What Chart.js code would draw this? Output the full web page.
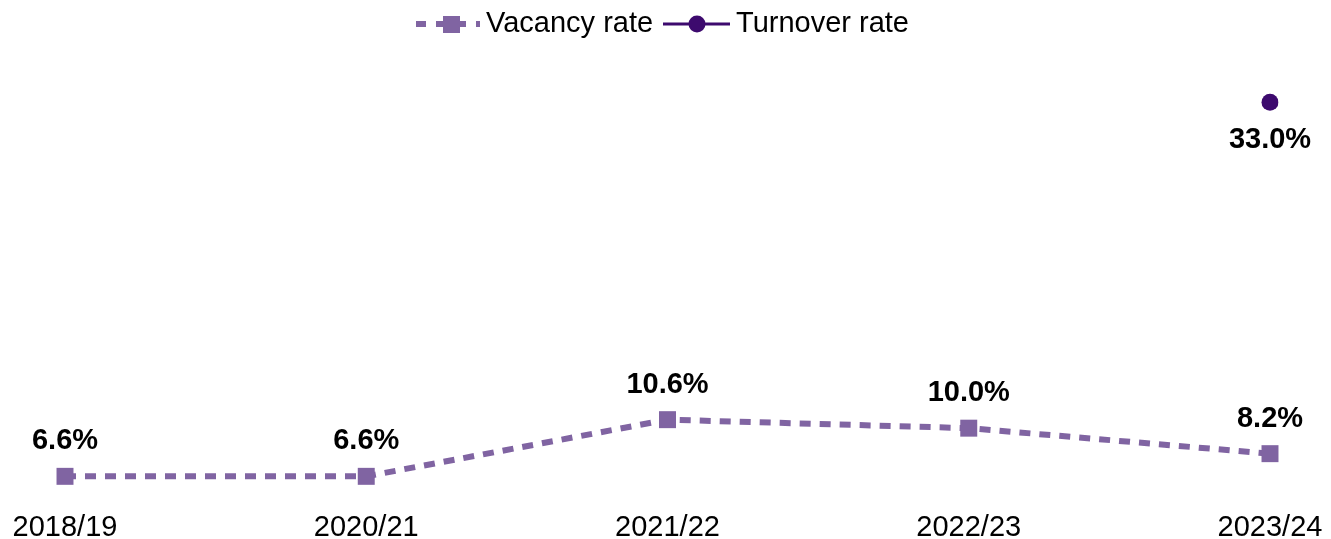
<!DOCTYPE html>
<html>
<head>
<meta charset="utf-8">
<script src="https://cdn.jsdelivr.net/npm/chart.js@4/dist/chart.umd.min.js"></script>
<style>
  html, body { margin: 0; padding: 0; background: #fff; }
  #wrap { width: 1331px; height: 539px; position: relative; }
</style>
</head>
<body>
<div id="wrap"><canvas id="rateChart"></canvas></div>
<script>
// data
const years = ['2018/19', '2020/21', '2021/22', '2022/23', '2023/24'];
const vacancyRate = [6.6, 6.6, 10.6, 10.0, 8.2];
const turnoverRate = [null, null, null, null, 33.0];

const vacancyColor = '#8064A2';
const turnoverColor = '#3D0A6E';
const fontFamily = 'Arial, "Liberation Sans", sans-serif';

// value labels above (vacancy) / below (turnover) the points
const valueLabels = {
    id: 'valueLabels',
    afterDatasetsDraw(chart) {
        const ctx = chart.ctx;
        ctx.save();
        ctx.font = 'bold 29px ' + fontFamily;
        ctx.fillStyle = '#000';
        ctx.textAlign = 'center';
        ctx.textBaseline = 'middle';
        chart.data.datasets.forEach((ds, i) => {
            const meta = chart.getDatasetMeta(i);
            meta.data.forEach((pt, j) => {
                const v = ds.data[j];
                if (v === null) return;
                const dy = ds.labelBelow ? 38 : -35;
                ctx.fillText(v.toFixed(1) + '%', pt.x, pt.y + dy);
            });
        });
        ctx.restore();
    }
};

// legend drawn by hand so that it shows line + marker
const customLegend = {
    id: 'customLegend',
    afterDraw(chart) {
        const ctx = chart.ctx;
        const y = 24;
        ctx.save();
        ctx.font = '29px ' + fontFamily;
        ctx.textBaseline = 'middle';
        ctx.fillStyle = '#000';

        // vacancy
        ctx.strokeStyle = vacancyColor;
        ctx.lineWidth = 6;
        ctx.setLineDash([10, 10]);
        ctx.beginPath();
        ctx.moveTo(416, y);
        ctx.lineTo(480, y);
        ctx.stroke();
        ctx.setLineDash([]);
        ctx.fillStyle = vacancyColor;
        ctx.fillRect(443, y - 8, 17, 17);
        ctx.fillStyle = '#000';
        ctx.fillText('Vacancy rate', 486, y);

        // turnover
        ctx.strokeStyle = turnoverColor;
        ctx.lineWidth = 3;
        ctx.beginPath();
        ctx.moveTo(663, y);
        ctx.lineTo(730, y);
        ctx.stroke();
        ctx.fillStyle = turnoverColor;
        ctx.beginPath();
        ctx.arc(697, y, 8.5, 0, Math.PI * 2);
        ctx.fill();
        ctx.fillStyle = '#000';
        ctx.fillText('Turnover rate', 736, y);
        ctx.restore();
    }
};

const ctx = document.getElementById('rateChart').getContext('2d');
const rateChart = new Chart(ctx, {
    type: 'line',
    data: {
        labels: years,
        datasets: [{
            label: 'Vacancy rate',
            data: vacancyRate,
            borderColor: vacancyColor,
            backgroundColor: vacancyColor,
            borderWidth: 6,
            borderDash: [11, 9],
            pointStyle: 'rect',
            pointRadius: 12,
            pointBorderWidth: 0,
            tension: 0
        }, {
            label: 'Turnover rate',
            data: turnoverRate,
            labelBelow: true,
            borderColor: turnoverColor,
            backgroundColor: turnoverColor,
            borderWidth: 3,
            pointStyle: 'circle',
            pointRadius: 8.5,
            pointBorderWidth: 0
        }]
    },
    options: {
        responsive: true,
        maintainAspectRatio: false,
        animation: false,
        layout: { padding: { left: 65, right: 61, top: 74, bottom: 0 } },
        plugins: {
            legend: { display: false },
            tooltip: { enabled: false }
        },
        scales: {
            x: {
                offset: false,
                grid: { display: false, drawTicks: false },
                border: { display: false },
                afterFit(scale) {
                    scale.height = 40;
                    scale.paddingLeft = 0;
                    scale.paddingRight = 0;
                },
                ticks: {
                    color: '#000',
                    font: { size: 29, family: fontFamily },
                    padding: 12,
                    maxRotation: 0,
                    autoSkip: false
                }
            },
            y: {
                display: false,
                min: 5,
                max: 35
            }
        }
    },
    plugins: [valueLabels, customLegend]
});
</script>
</body>
</html>
